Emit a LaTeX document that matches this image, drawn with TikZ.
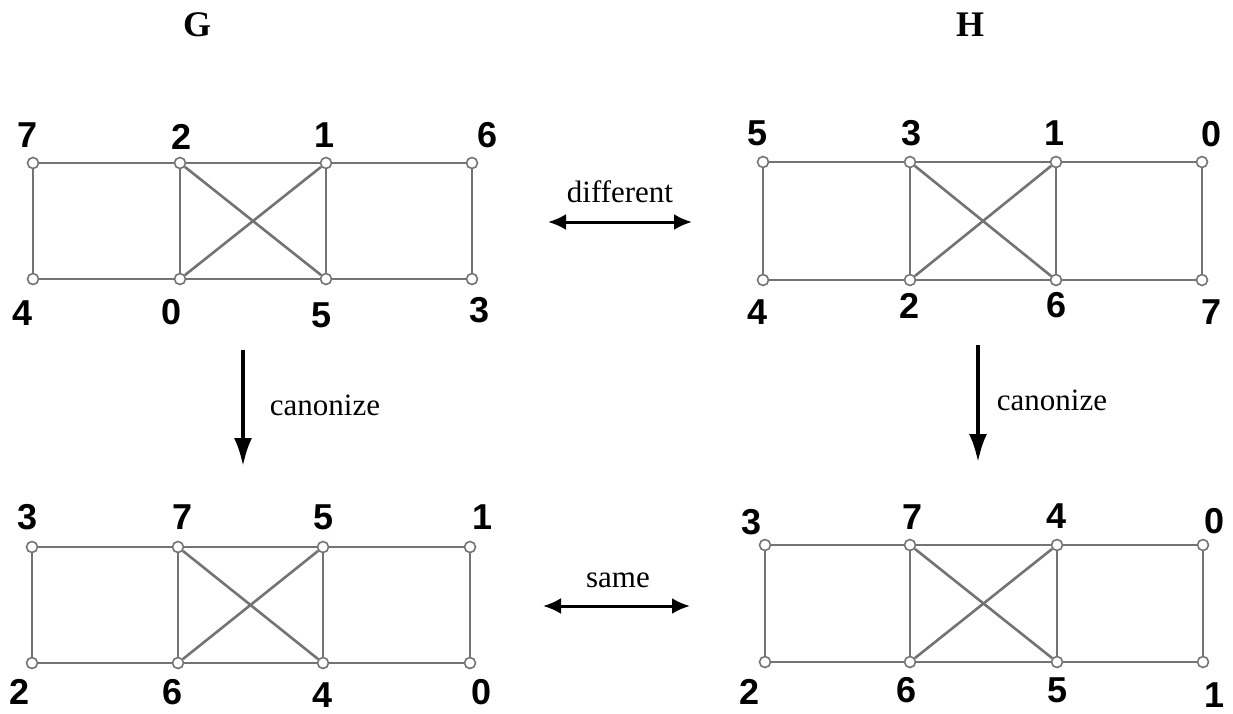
\documentclass[tikz,border=0pt]{standalone}
\usepackage{fontspec}
\setmainfont{Liberation Serif}
\setsansfont{Liberation Sans}
\usetikzlibrary{arrows.meta}

\begin{document}
\begin{tikzpicture}[x=0.5pt,y=-0.5pt,
  vtx/.style={circle,draw=black!55,fill=white,line width=0.8pt,inner sep=0pt,minimum size=5.5pt},
  edge/.style={black!55,line width=1.3pt},
  num/.style={font=\sffamily\bfseries\fontsize{18}{20}\selectfont,inner sep=0pt},
  ttl/.style={font=\bfseries\fontsize{18}{20}\selectfont,inner sep=0pt},
  tag/.style={font=\fontsize{15.5}{17}\selectfont,inner sep=0pt},
  arr/.style={line width=1.8pt,-{Latex[length=14pt,width=9pt]}},
  darr/.style={line width=1.5pt,{Latex[length=9pt,width=8pt]}-{Latex[length=9pt,width=8pt]}}]
\useasboundingbox (0,0) rectangle (1233,713);
% titles
\node[ttl] (tG) at (197,25) {G};
\node[ttl] (tH) at (970,25) {H};
% vertices: columns 1..4, top row t, bottom row b
\foreach \g/\xa/\xb/\xc/\xd/\yt/\yb in {G/33/180/326/472/163/279,H/763/910/1056/1202/162/280,
    cG/32/178/323/470/547/663,cH/765/910/1057/1203/545/662}{
  \node[vtx] (\g-t1) at (\xa,\yt) {};
  \node[vtx] (\g-t2) at (\xb,\yt) {};
  \node[vtx] (\g-t3) at (\xc,\yt) {};
  \node[vtx] (\g-t4) at (\xd,\yt) {};
  \node[vtx] (\g-b1) at (\xa,\yb) {};
  \node[vtx] (\g-b2) at (\xb,\yb) {};
  \node[vtx] (\g-b3) at (\xc,\yb) {};
  \node[vtx] (\g-b4) at (\xd,\yb) {};
}
% edges
\foreach \g in {G,H,cG,cH}{
  \draw[edge] (\g-t1)--(\g-t2)--(\g-t3)--(\g-t4);
  \draw[edge] (\g-b1)--(\g-b2)--(\g-b3)--(\g-b4);
  \foreach \i in {1,...,4} \draw[edge] (\g-t\i)--(\g-b\i);
  \draw[edge] (\g-t2)--(\g-b3);
  \draw[edge] (\g-t3)--(\g-b2);
}
% vertex numbers
\foreach \g/\k/\x/\y/\t in {G/t1/28/135/7,G/t2/182/137/2,G/t3/325/135/1,G/t4/488/135/6,
    G/b1/23/313/4,G/b2/172/312/0,G/b3/322/315/5,G/b4/480/310/3,
    H/t1/758/133/5,H/t2/912/133/3,H/t3/1055/133/1,H/t4/1212/134/0,
    H/b1/758/312/4,H/b2/910/306/2,H/b3/1057/305/6,H/b4/1212/312/7,
    cG/t1/28/517/3,cG/t2/183/517/7,cG/t3/324/517/5,cG/t4/483/517/1,
    cG/b1/20/692/2,cG/b2/173/692/6,cG/b3/323/695/4,cG/b4/482/692/0,
    cH/t1/752/522/3,cH/t2/913/517/7,cH/t3/1057/516/4,cH/t4/1215/521/0,
    cH/b1/750/692/2,cH/b2/907/690/6,cH/b3/1058/690/5,cH/b4/1215/695/1}
  \node[num] (\g-n\k) at (\x,\y) {\t};
% arrows between graphs
\coordinate (d1) at (548,222);
\coordinate (d2) at (692,222);
\draw[darr] (d1)--(d2);
\node[tag] (ldiff) at (620,192) {different};
\coordinate (s1) at (543,606);
\coordinate (s2) at (690,606);
\draw[darr] (s1)--(s2);
\node[tag] (lsame) at (618,580) {same};
\coordinate (cg1) at (243,350);
\coordinate (cg2) at (243,466);
\draw[arr] (cg1)--(cg2);
\node[tag] (lcg) at (325,405) {canonize};
\coordinate (ch1) at (978,345);
\coordinate (ch2) at (978,462);
\draw[arr] (ch1)--(ch2);
\node[tag] (lch) at (1052,400) {canonize};
\end{tikzpicture}
\end{document}
